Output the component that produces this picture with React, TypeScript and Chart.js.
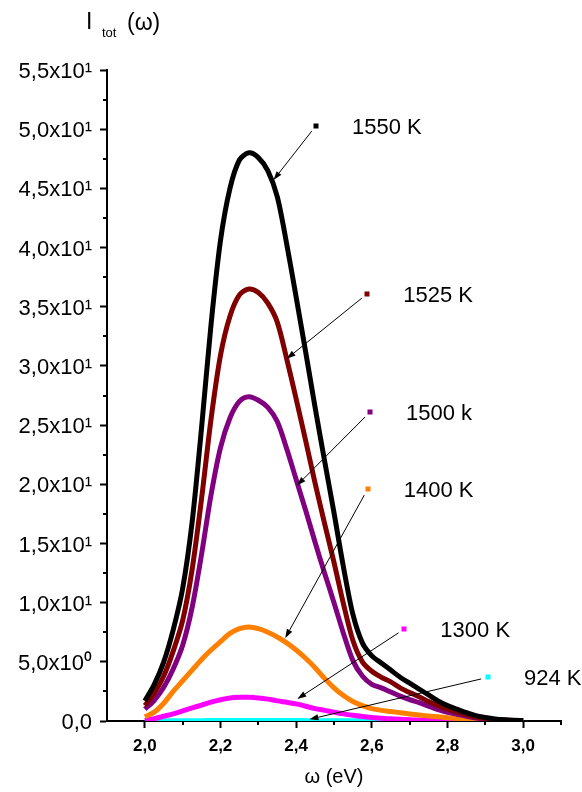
import { useEffect, useRef } from "react";
import { Chart, registerables } from "chart.js";

Chart.register(...registerables);

// photon energy grid (eV)
const omega = [
  2.0, 2.025, 2.05, 2.075, 2.1, 2.125, 2.15, 2.175, 2.2, 2.225,
  2.25, 2.275, 2.3, 2.325, 2.35, 2.375, 2.4, 2.425, 2.45, 2.475,
  2.5, 2.525, 2.55, 2.575, 2.6, 2.625, 2.65, 2.675, 2.7, 2.725,
  2.75, 2.775, 2.8, 2.825, 2.85, 2.875, 2.9, 2.925, 2.95, 2.975,
  3.0,
];

// total intensity for each temperature
const i1550 = [
  1.7, 3.1, 5.0, 7.7, 11.2, 16.8, 24.8, 33.5, 40.6, 45.0,
  47.4, 48.0, 47.6, 46.5, 44.3, 40.3, 35.8, 31.2, 26.5, 22.0,
  17.6, 13.0, 9.0, 6.6, 5.5, 4.9, 4.3, 3.7, 3.2, 2.7,
  2.2, 1.7, 1.3, 1.0, 0.7, 0.45, 0.3, 0.18, 0.1, 0.06,
  0.04,
];
const i1525 = [
  1.3, 2.35, 3.8, 5.9, 8.5, 12.8, 18.8, 25.5, 30.9, 34.2,
  36.0, 36.5, 36.2, 35.3, 33.7, 30.6, 27.2, 23.7, 20.1, 16.7,
  13.4, 9.9, 6.8, 5.0, 4.2, 3.7, 3.3, 2.8, 2.4, 2.05,
  1.65, 1.3, 1.0, 0.75, 0.53, 0.34, 0.22, 0.13, 0.08, 0.05,
  0.03,
];
const i1500 = [
  1.0, 1.75, 2.85, 4.4, 6.4, 9.6, 14.1, 19.1, 23.1, 25.6,
  27.0, 27.4, 27.1, 26.5, 25.3, 23.0, 20.4, 17.8, 15.1, 12.5,
  10.0, 7.4, 5.1, 3.8, 3.1, 2.8, 2.45, 2.1, 1.8, 1.55,
  1.25, 0.97, 0.74, 0.57, 0.4, 0.26, 0.17, 0.1, 0.06, 0.03,
  0.02,
];
const i1400 = [
  0.35, 0.75, 1.5, 2.5, 3.4, 4.3, 5.2, 6.0, 6.7, 7.4,
  7.8, 7.95, 7.8, 7.5, 7.1, 6.6, 6.0, 5.3, 4.5, 3.6,
  2.8, 2.15, 1.65, 1.3, 1.05, 0.9, 0.8, 0.7, 0.6, 0.5,
  0.42, 0.35, 0.28, 0.2, 0.14, 0.08, 0.04, 0.02, 0.01, 0.01,
  0.0,
];
const i1300 = [
  0.05, 0.2, 0.4, 0.6, 0.85, 1.1, 1.35, 1.6, 1.8, 1.95,
  2.0, 2.0, 1.95, 1.85, 1.7, 1.58, 1.45, 1.25, 1.05, 0.9,
  0.75, 0.6, 0.48, 0.38, 0.3, 0.24, 0.18, 0.14, 0.11, 0.08,
  0.06, 0.05, 0.04, 0.03, 0.02, 0.02, 0.01, 0.01, 0.01, 0.0,
  0.0,
];
const i924 = [
  0.0, 0.01, 0.01, 0.02, 0.02, 0.03, 0.03, 0.04, 0.04, 0.05,
  0.05, 0.05, 0.05, 0.05, 0.04, 0.04, 0.04, 0.03, 0.03, 0.03,
  0.02, 0.02, 0.02, 0.01, 0.01, 0.01, 0.01, 0.01, 0.0, 0.0,
  0.0, 0.0, 0.0, 0.0, 0.0, 0.0, 0.0, 0.0, 0.0, 0.0,
  0.0,
];

const seriesValues = [i1550, i1525, i1500, i1400, i1300, i924];
const seriesNames = ["1550 K", "1525 K", "1500 k", "1400 K", "1300 K", "924 K"];
const seriesColors = ["#000000", "#800000", "#800080", "#FF8000", "#FF00FF", "#00FFFF"];

// callout boxes: marker position and arrow tip, in data units
const markerX = [2.4525, 2.588, 2.595, 2.589, 2.686, 2.907];
const markerY = [50.3, 36.1, 26.1, 19.6, 7.77, 3.69];
const tipX = [2.34, 2.375, 2.402, 2.371, 2.403, 2.435];
const tipY = [45.7, 30.6, 19.9, 7.0, 1.86, 0.14];

const yTickValues = [0, 5, 10, 15, 20, 25, 30, 35, 40, 45, 50, 55];
const yTickLabels = [
  "0,0", "5,0x10⁰", "1,0x10¹", "1,5x10¹", "2,0x10¹", "2,5x10¹",
  "3,0x10¹", "3,5x10¹", "4,0x10¹", "4,5x10¹", "5,0x10¹", "5,5x10¹",
];
const yMinorTicks = [2.5, 7.5, 12.5, 17.5, 22.5, 27.5, 32.5, 37.5, 42.5, 47.5, 52.5];
const xTickValues = [2.0, 2.2, 2.4, 2.6, 2.8, 3.0];
const xTickLabels = ["2,0", "2,2", "2,4", "2,6", "2,8", "3,0"];
const xMinorTicks = [2.1, 2.3, 2.5, 2.7, 2.9, 3.1];

const FONT = "'Liberation Sans', Arial, sans-serif";

const decorations = {
  id: "decorations",
  afterDatasetsDraw(chart: any) {
    const ctx = chart.ctx as CanvasRenderingContext2D;
    const xs = chart.scales.x;
    const ys = chart.scales.y;
    ctx.save();

    // minor ticks
    ctx.strokeStyle = "#000";
    ctx.lineWidth = 2;
    const left = chart.chartArea.left;
    const bottom = chart.chartArea.bottom;
    yMinorTicks.forEach((v) => {
      const py = Math.round(ys.getPixelForValue(v));
      ctx.beginPath();
      ctx.moveTo(left - 4, py);
      ctx.lineTo(left, py);
      ctx.stroke();
    });
    xMinorTicks.forEach((v) => {
      const px = Math.round(xs.getPixelForValue(v));
      ctx.beginPath();
      ctx.moveTo(px, bottom);
      ctx.lineTo(px, bottom + 4);
      ctx.stroke();
    });

    // callouts
    seriesNames.forEach((name, i) => {
      const mx = xs.getPixelForValue(markerX[i]);
      const my = ys.getPixelForValue(markerY[i]);
      const tx = xs.getPixelForValue(tipX[i]);
      const ty = ys.getPixelForValue(tipY[i]);
      const dx = tx - mx;
      const dy = ty - my;
      const len = Math.hypot(dx, dy);
      const ux = dx / len;
      const uy = dy / len;
      const sx = mx + ux * 7;
      const sy = my + uy * 7;
      const headLen = 9;
      const headW = 3;
      const bx = tx - ux * headLen;
      const by = ty - uy * headLen;

      ctx.strokeStyle = "#000";
      ctx.lineWidth = 1;
      ctx.beginPath();
      ctx.moveTo(sx, sy);
      ctx.lineTo(bx, by);
      ctx.stroke();
      ctx.fillStyle = "#000";
      ctx.beginPath();
      ctx.moveTo(tx, ty);
      ctx.lineTo(bx - uy * headW, by + ux * headW);
      ctx.lineTo(bx + uy * headW, by - ux * headW);
      ctx.closePath();
      ctx.fill();

      ctx.fillStyle = seriesColors[i];
      ctx.fillRect(Math.round(mx) - 2.5, Math.round(my) - 2.5, 5, 5);

      ctx.fillStyle = "#000";
      ctx.font = `22px ${FONT}`;
      ctx.textAlign = "left";
      ctx.textBaseline = "middle";
      ctx.fillText(name, mx + 36, my + 2);
    });

    // axis title at top: I_tot (ω)
    ctx.fillStyle = "#000";
    ctx.textBaseline = "alphabetic";
    ctx.textAlign = "left";
    ctx.font = `23px ${FONT}`;
    ctx.fillText("I", 86, 29);
    ctx.font = `13px ${FONT}`;
    ctx.fillText("tot", 102, 37);
    ctx.font = `23px ${FONT}`;
    ctx.fillText("(ω)", 127, 30);

    ctx.restore();
  },
};

export default function App() {
  const canvasRef = useRef<HTMLCanvasElement | null>(null);

  useEffect(() => {
    const canvas = canvasRef.current;
    if (!canvas) return;

    const datasets = seriesValues.map((vals, i) => ({
      label: seriesNames[i],
      data: vals.map((v, k) => ({ x: omega[k], y: v })),
      borderColor: seriesColors[i],
      backgroundColor: seriesColors[i],
      borderWidth: 5,
      pointRadius: 0,
      fill: false,
      tension: 0.3,
    }));

    const chart = new Chart(canvas, {
      type: "line",
      data: { datasets },
      plugins: [decorations],
      options: {
        responsive: false,
        animation: false,
        layout: { padding: { top: 70, right: 21, left: 0, bottom: 0 } },
        plugins: {
          legend: { display: false },
          tooltip: { enabled: false },
        },
        scales: {
          x: {
            type: "linear",
            min: 1.9,
            max: 3.1,
            afterBuildTicks: (scale: any) => {
              scale.ticks = xTickValues.map((v) => ({ value: v }));
            },
            afterFit: (scale: any) => {
              scale.height = 71;
            },
            border: { color: "#000", width: 2 },
            grid: {
              drawOnChartArea: false,
              drawTicks: true,
              tickLength: 7,
              tickWidth: 2,
              tickColor: "#000",
            },
            ticks: {
              autoSkip: false,
              maxRotation: 0,
              padding: 8,
              color: "#000",
              font: { family: FONT, size: 17, weight: "bold" },
              callback: (value: any) => {
                const idx = xTickValues.findIndex((t) => Math.abs(t - Number(value)) < 1e-6);
                return idx >= 0 ? xTickLabels[idx] : "";
              },
            },
            title: {
              display: true,
              text: "ω (eV)",
              color: "#000",
              font: { family: FONT, size: 20 },
              padding: { top: 0, bottom: 3 },
            },
          },
          y: {
            type: "linear",
            min: 0,
            max: 55,
            afterBuildTicks: (scale: any) => {
              scale.ticks = yTickValues.map((v) => ({ value: v }));
            },
            afterFit: (scale: any) => {
              scale.width = 107;
            },
            border: { color: "#000", width: 2 },
            grid: {
              drawOnChartArea: false,
              drawTicks: true,
              tickLength: 7,
              tickWidth: 2,
              tickColor: "#000",
            },
            ticks: {
              autoSkip: false,
              padding: 8,
              labelOffset: 2,
              color: "#000",
              font: { family: FONT, size: 22 },
              callback: (value: any) => {
                const idx = yTickValues.findIndex((t) => Math.abs(t - Number(value)) < 1e-6);
                return idx >= 0 ? yTickLabels[idx] : "";
              },
            },
          },
        },
      },
    });

    return () => chart.destroy();
  }, []);

  return (
    <canvas
      ref={canvasRef}
      width={582}
      height={792}
      style={{ position: "absolute", left: 0, top: 0, width: 582, height: 792 }}
    />
  );
}
